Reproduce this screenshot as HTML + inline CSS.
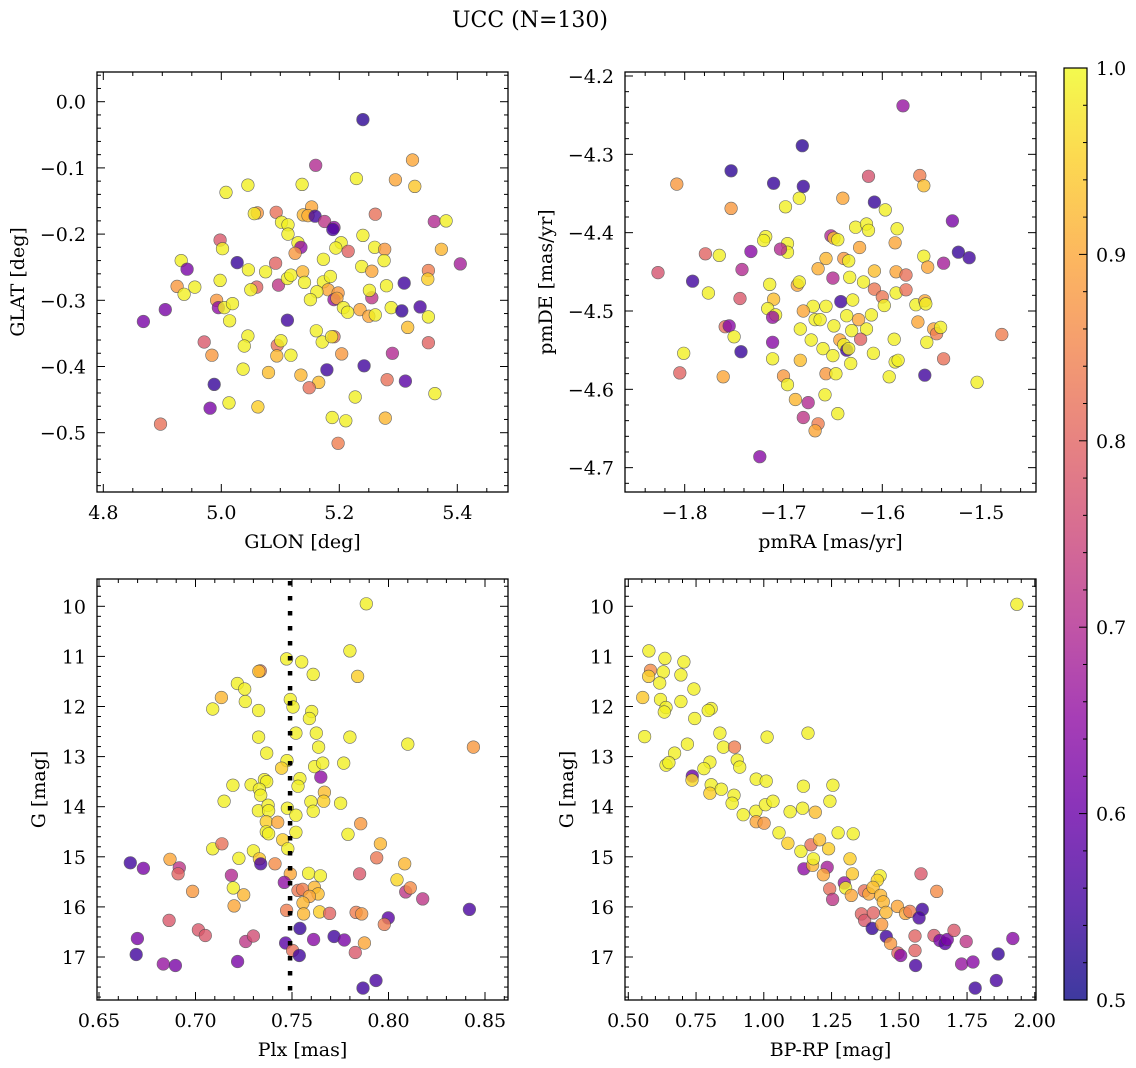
<!DOCTYPE html>
<html><head><meta charset="utf-8">
<style>
html,body{margin:0;padding:0;background:#fff;}
svg{display:block;font-family:"DejaVu Serif","Liberation Serif",serif;}
</style></head>
<body>
<svg id="fig" width="1136" height="1068" viewBox="0 0 1136 1068" xmlns="http://www.w3.org/2000/svg">
<defs>
<linearGradient id="plasmaGrad" x1="0" y1="1" x2="0" y2="0">
<stop offset="0" stop-color="#0d0887"/><stop offset="0.1" stop-color="#41049d"/><stop offset="0.2" stop-color="#6a00a8"/><stop offset="0.3" stop-color="#8f0da4"/><stop offset="0.4" stop-color="#b12a90"/><stop offset="0.5" stop-color="#cc4778"/><stop offset="0.6" stop-color="#e16462"/><stop offset="0.7" stop-color="#f2844b"/><stop offset="0.8" stop-color="#fca636"/><stop offset="0.9" stop-color="#fcce25"/><stop offset="1" stop-color="#f0f921"/>
</linearGradient>
</defs>
<text x="530" y="27" font-size="22" text-anchor="middle">UCC (N=130)</text>
<g>
<rect x="1064" y="68" width="23" height="932" fill="url(#plasmaGrad)" opacity="0.8"/>
<rect x="1064" y="68" width="23" height="932" fill="none" stroke="#000" stroke-width="1.2"/>
<g id="cbticks"></g>
</g>
<g id="panels"></g>
</svg>
<script>
// ---- data: [x, y, colour value] ----
const glonGlat = [
[5.240,-0.027,0.53],[5.160,-0.096,0.70],[5.324,-0.088,0.90],[5.229,-0.116,0.99],[5.295,-0.118,0.90],[5.328,-0.128,0.94],[5.008,-0.137,0.99],[5.045,-0.126,0.99],[5.137,-0.125,0.99],
[5.061,-0.168,0.88],[5.056,-0.169,0.98],[5.093,-0.167,0.82],[5.153,-0.159,0.90],[5.139,-0.171,0.92],[5.147,-0.172,0.91],[5.159,-0.173,0.55],[5.175,-0.181,0.72],[5.191,-0.190,0.65],[5.189,-0.193,0.56],
[5.261,-0.170,0.82],[5.361,-0.181,0.70],[5.381,-0.180,0.99],[5.102,-0.182,0.99],[5.113,-0.186,0.99],[5.113,-0.200,0.99],[5.130,-0.213,0.99],[5.135,-0.220,0.65],[5.125,-0.229,0.88],
[4.998,-0.209,0.78],[5.002,-0.222,0.99],[5.240,-0.202,0.99],[5.203,-0.213,0.99],[5.194,-0.221,0.99],[5.215,-0.226,0.80],[5.260,-0.220,0.99],[5.277,-0.223,0.88],[5.276,-0.240,0.99],
[5.373,-0.223,0.92],[5.405,-0.245,0.68],[4.932,-0.240,0.99],[4.942,-0.253,0.62],[5.027,-0.243,0.54],[5.046,-0.254,0.99],[5.075,-0.257,0.99],[5.092,-0.244,0.80],[5.173,-0.238,0.99],
[5.238,-0.249,0.99],[5.255,-0.256,0.90],[5.351,-0.255,0.84],[5.350,-0.268,0.95],[4.925,-0.279,0.88],[4.937,-0.291,0.99],[4.955,-0.280,0.99],[4.998,-0.270,0.99],[5.060,-0.280,0.80],
[5.050,-0.284,0.99],[5.097,-0.277,0.72],[5.112,-0.267,0.99],[5.118,-0.262,0.99],[5.138,-0.257,0.92],[5.141,-0.273,0.99],[5.173,-0.272,0.99],[5.185,-0.264,0.99],[5.181,-0.284,0.90],
[5.198,-0.289,0.88],[5.162,-0.287,0.99],[5.151,-0.299,0.99],[5.191,-0.299,0.66],[5.196,-0.297,0.90],[5.280,-0.278,0.99],[5.255,-0.296,0.72],[5.251,-0.285,0.99],[5.310,-0.274,0.55],
[4.992,-0.300,0.88],[4.995,-0.311,0.65],[5.005,-0.311,0.99],[5.019,-0.305,0.99],[5.014,-0.331,0.99],[4.905,-0.314,0.62],[4.868,-0.332,0.62],[5.112,-0.330,0.55],[5.207,-0.311,0.99],
[5.214,-0.318,0.99],[5.235,-0.314,0.90],[5.250,-0.324,0.90],[5.261,-0.322,0.99],[5.288,-0.311,0.99],[5.306,-0.316,0.54],[5.337,-0.310,0.56],[5.351,-0.325,0.99],[5.316,-0.341,0.93],
[5.045,-0.354,0.99],[5.039,-0.369,0.99],[4.971,-0.363,0.78],[4.984,-0.383,0.88],[5.095,-0.368,0.82],[5.101,-0.361,0.99],[5.094,-0.384,0.92],[5.118,-0.383,0.99],[5.161,-0.346,0.99],
[5.171,-0.363,0.99],[5.191,-0.355,0.82],[5.187,-0.355,0.98],[5.204,-0.381,0.88],[5.242,-0.399,0.55],[5.290,-0.380,0.70],[5.351,-0.364,0.80],[5.037,-0.404,0.99],[5.080,-0.409,0.93],
[5.135,-0.413,0.92],[5.179,-0.405,0.55],[5.165,-0.424,0.93],[5.149,-0.432,0.82],[5.281,-0.420,0.82],[5.312,-0.422,0.58],[5.362,-0.441,0.99],[4.988,-0.427,0.54],[5.013,-0.455,0.99],
[5.062,-0.461,0.95],[4.981,-0.463,0.62],[5.227,-0.446,0.99],[5.188,-0.477,0.99],[5.211,-0.482,0.99],[5.278,-0.478,0.92],[5.198,-0.516,0.84],[4.897,-0.487,0.82]
];
const pmraPmde = [
[-1.579,-4.238,0.66],[-1.681,-4.289,0.53],[-1.753,-4.321,0.53],[-1.808,-4.338,0.88],[-1.710,-4.337,0.54],[-1.680,-4.341,0.54],[-1.614,-4.328,0.77],[-1.562,-4.327,0.84],[-1.558,-4.340,0.93],
[-1.753,-4.369,0.88],[-1.698,-4.367,0.99],[-1.684,-4.356,0.99],[-1.640,-4.356,0.90],[-1.608,-4.361,0.54],[-1.597,-4.371,0.99],[-1.529,-4.385,0.62],[-1.627,-4.393,0.99],[-1.616,-4.389,0.99],
[-1.614,-4.397,0.99],[-1.585,-4.395,0.99],[-1.718,-4.405,0.99],[-1.720,-4.410,0.99],[-1.696,-4.414,0.99],[-1.696,-4.425,0.99],[-1.703,-4.421,0.70],[-1.733,-4.424,0.64],[-1.779,-4.427,0.80],
[-1.765,-4.429,0.99],[-1.652,-4.404,0.70],[-1.649,-4.407,0.93],[-1.645,-4.409,0.99],[-1.623,-4.419,0.90],[-1.587,-4.413,0.90],[-1.558,-4.430,0.99],[-1.554,-4.444,0.90],[-1.538,-4.439,0.68],
[-1.523,-4.425,0.54],[-1.512,-4.432,0.55],[-1.827,-4.451,0.77],[-1.792,-4.462,0.55],[-1.776,-4.477,0.99],[-1.742,-4.447,0.70],[-1.744,-4.484,0.78],[-1.657,-4.433,0.92],[-1.665,-4.446,0.91],
[-1.639,-4.433,0.88],[-1.634,-4.436,0.99],[-1.650,-4.458,0.70],[-1.633,-4.457,0.99],[-1.608,-4.449,0.93],[-1.586,-4.450,0.90],[-1.576,-4.454,0.82],[-1.714,-4.466,0.99],[-1.686,-4.467,0.90],
[-1.684,-4.463,0.99],[-1.710,-4.485,0.93],[-1.716,-4.497,0.99],[-1.708,-4.505,0.99],[-1.711,-4.508,0.66],[-1.619,-4.463,0.99],[-1.608,-4.472,0.83],[-1.600,-4.482,0.83],[-1.598,-4.493,0.99],
[-1.586,-4.477,0.99],[-1.576,-4.473,0.82],[-1.642,-4.488,0.55],[-1.630,-4.486,0.99],[-1.657,-4.494,0.99],[-1.670,-4.494,0.99],[-1.680,-4.500,0.90],[-1.668,-4.511,0.99],[-1.663,-4.511,0.99],
[-1.636,-4.506,0.99],[-1.624,-4.511,0.90],[-1.611,-4.505,0.99],[-1.566,-4.492,0.99],[-1.557,-4.487,0.90],[-1.556,-4.491,0.99],[-1.564,-4.514,0.90],[-1.548,-4.523,0.90],[-1.545,-4.529,0.84],
[-1.541,-4.521,0.99],[-1.479,-4.530,0.84],[-1.759,-4.520,0.82],[-1.755,-4.519,0.64],[-1.750,-4.533,0.99],[-1.683,-4.523,0.99],[-1.649,-4.519,0.99],[-1.631,-4.525,0.99],[-1.616,-4.523,0.99],
[-1.672,-4.537,0.99],[-1.643,-4.537,0.90],[-1.639,-4.543,0.99],[-1.636,-4.550,0.55],[-1.634,-4.548,0.99],[-1.622,-4.536,0.80],[-1.711,-4.540,0.64],[-1.743,-4.552,0.54],[-1.801,-4.554,0.99],
[-1.660,-4.548,0.99],[-1.650,-4.557,0.99],[-1.711,-4.561,0.99],[-1.683,-4.563,0.93],[-1.632,-4.567,0.99],[-1.609,-4.554,0.99],[-1.588,-4.536,0.99],[-1.555,-4.540,0.99],[-1.587,-4.565,0.99],
[-1.584,-4.563,0.99],[-1.538,-4.561,0.82],[-1.805,-4.579,0.80],[-1.761,-4.584,0.90],[-1.700,-4.583,0.88],[-1.696,-4.594,0.99],[-1.657,-4.580,0.88],[-1.647,-4.580,0.99],[-1.593,-4.584,0.99],
[-1.557,-4.582,0.55],[-1.504,-4.591,0.99],[-1.688,-4.613,0.92],[-1.658,-4.607,0.99],[-1.675,-4.617,0.70],[-1.680,-4.636,0.72],[-1.665,-4.644,0.84],[-1.668,-4.653,0.90],[-1.645,-4.631,0.99],
[-1.724,-4.686,0.64]
];
const plxG = [
[0.7885,9.95,0.99],[0.780,10.89,0.99],[0.7472,11.05,0.99],[0.755,11.11,0.99],[0.761,11.36,0.99],[0.784,11.40,0.95],[0.7336,11.29,0.84],[0.7328,11.30,0.93],[0.7217,11.54,0.99],
[0.7255,11.65,0.99],[0.7134,11.82,0.92],[0.7258,11.90,0.99],[0.7089,12.05,0.99],[0.7327,12.08,0.99],[0.7491,11.86,0.99],[0.7505,12.01,0.99],[0.7602,12.10,0.99],[0.759,12.24,0.99],
[0.7327,12.61,0.99],[0.752,12.53,0.99],[0.7626,12.53,0.99],[0.7638,12.81,0.99],[0.780,12.61,0.99],[0.810,12.75,0.99],[0.844,12.81,0.88],[0.7369,12.93,0.99],[0.7474,13.08,0.99],
[0.7446,13.23,0.95],[0.7617,13.20,0.99],[0.7659,13.13,0.99],[0.7768,13.13,0.99],[0.7649,13.41,0.65],[0.7541,13.44,0.99],[0.7531,13.59,0.99],[0.7194,13.57,0.99],[0.7288,13.56,0.99],
[0.7357,13.46,0.99],[0.7369,13.50,0.99],[0.7331,13.65,0.99],[0.7338,13.77,0.99],[0.7148,13.89,0.99],[0.7668,13.71,0.93],[0.7664,13.89,0.95],[0.7598,13.90,0.99],[0.761,14.09,0.99],
[0.7752,13.93,0.99],[0.7326,14.08,0.99],[0.7376,13.97,0.99],[0.7379,14.08,0.99],[0.7476,14.03,0.99],[0.752,14.17,0.99],[0.7367,14.30,0.95],[0.7426,14.31,0.90],[0.7367,14.50,0.99],
[0.7379,14.54,0.99],[0.752,14.51,0.99],[0.7452,14.66,0.95],[0.7478,14.84,0.99],[0.779,14.55,0.99],[0.7856,14.34,0.88],[0.7958,14.74,0.92],[0.7089,14.84,0.99],[0.7137,14.74,0.82],
[0.730,14.88,0.99],[0.7225,15.03,0.99],[0.7331,15.04,0.94],[0.7338,15.14,0.56],[0.7412,15.14,0.86],[0.7939,15.02,0.83],[0.8084,15.14,0.92],[0.6662,15.12,0.55],[0.673,15.23,0.62],
[0.6868,15.05,0.90],[0.6916,15.22,0.72],[0.691,15.34,0.80],[0.7186,15.37,0.70],[0.7491,15.34,0.90],[0.7586,15.33,0.99],[0.7647,15.38,0.99],[0.785,15.34,0.78],[0.8044,15.46,0.96],
[0.746,15.51,0.65],[0.7531,15.67,0.83],[0.7555,15.65,0.84],[0.7616,15.61,0.92],[0.7635,15.74,0.93],[0.759,15.79,0.90],[0.7196,15.62,0.99],[0.725,15.76,0.92],[0.6985,15.69,0.88],
[0.8089,15.70,0.72],[0.8113,15.62,0.86],[0.8177,15.84,0.72],[0.720,15.98,0.90],[0.7472,16.07,0.84],[0.7557,15.92,0.92],[0.756,16.14,0.92],[0.7643,16.10,0.95],[0.7695,16.13,0.80],
[0.7832,16.11,0.84],[0.7861,16.14,0.88],[0.7999,16.22,0.58],[0.7978,16.35,0.84],[0.8419,16.05,0.56],[0.6863,16.27,0.78],[0.7015,16.46,0.78],[0.7051,16.57,0.78],[0.726,16.69,0.72],
[0.730,16.58,0.76],[0.7541,16.43,0.54],[0.7467,16.72,0.58],[0.7503,16.87,0.82],[0.7538,16.97,0.55],[0.7612,16.65,0.64],[0.7718,16.59,0.55],[0.7771,16.66,0.62],[0.7875,16.72,0.90],
[0.7828,16.91,0.78],[0.6699,16.63,0.62],[0.6693,16.95,0.55],[0.6833,17.14,0.66],[0.6896,17.17,0.62],[0.7218,17.09,0.62],[0.7935,17.47,0.56],[0.7868,17.62,0.55]
];
const bprpG = [
[1.934,9.96,0.99],[0.576,10.89,0.99],[0.635,11.04,0.99],[0.705,11.11,0.99],[0.629,11.31,0.99],[0.582,11.28,0.86],[0.575,11.40,0.95],[0.694,11.37,0.99],[0.616,11.53,0.99],
[0.742,11.65,0.99],[0.553,11.82,0.94],[0.619,11.86,0.99],[0.639,12.02,0.99],[0.633,12.11,0.99],[0.694,11.90,0.99],[0.806,12.04,0.99],[0.795,12.08,0.99],[0.745,12.24,0.99],
[0.560,12.60,0.99],[0.838,12.53,0.99],[1.012,12.61,0.99],[1.163,12.53,0.99],[0.718,12.75,0.99],[0.851,12.81,0.99],[0.892,12.81,0.84],[0.671,12.93,0.99],[0.639,13.17,0.99],
[0.650,13.12,0.99],[0.801,13.11,0.99],[0.779,13.24,0.99],[0.902,13.07,0.99],[0.911,13.21,0.99],[0.736,13.39,0.60],[0.735,13.47,0.96],[0.806,13.56,0.99],[0.801,13.73,0.95],
[0.843,13.65,0.99],[0.890,13.77,0.99],[0.883,13.93,0.99],[0.972,13.45,0.99],[1.009,13.49,0.99],[1.146,13.59,0.99],[1.255,13.57,0.99],[1.244,13.89,0.99],[0.924,14.16,0.99],
[0.971,14.09,0.99],[0.972,14.30,0.90],[1.001,14.33,0.88],[1.006,13.96,0.99],[1.034,13.89,0.99],[1.097,14.10,0.99],[1.143,14.03,0.99],[1.190,14.11,0.93],[1.056,14.52,0.99],
[1.089,14.73,0.95],[1.137,14.89,0.99],[1.174,14.76,0.82],[1.206,14.66,0.93],[1.239,14.84,0.95],[1.274,14.52,0.99],[1.330,14.54,0.99],[1.318,15.04,0.95],[1.148,15.24,0.65],
[1.180,15.17,0.92],[1.183,15.04,0.99],[1.234,15.21,0.68],[1.220,15.36,0.90],[1.327,15.34,0.94],[1.429,15.38,0.99],[1.419,15.47,0.96],[1.580,15.34,0.78],[1.297,15.52,0.66],
[1.302,15.62,0.99],[1.243,15.64,0.82],[1.254,15.85,0.72],[1.323,15.77,0.90],[1.371,15.68,0.82],[1.388,15.74,0.90],[1.403,15.61,0.93],[1.431,15.77,0.92],[1.441,15.90,0.92],
[1.451,16.11,0.92],[1.493,15.99,0.90],[1.523,16.13,0.90],[1.539,16.09,0.84],[1.638,15.69,0.86],[1.585,16.05,0.55],[1.573,16.22,0.56],[1.360,16.14,0.80],[1.372,16.27,0.78],
[1.404,16.12,0.80],[1.400,16.43,0.54],[1.435,16.35,0.88],[1.452,16.59,0.55],[1.468,16.73,0.88],[1.495,16.92,0.80],[1.505,16.97,0.64],[1.558,16.58,0.80],[1.558,16.87,0.80],
[1.560,17.17,0.56],[1.628,16.57,0.78],[1.650,16.67,0.62],[1.669,16.73,0.58],[1.677,16.65,0.62],[1.702,16.47,0.78],[1.747,16.69,0.72],[1.730,17.14,0.66],[1.772,17.10,0.64],
[1.865,16.94,0.54],[1.919,16.63,0.64],[1.858,17.47,0.56],[1.780,17.62,0.55]
];
// tick values
const p1XTicks = [4.8,5.0,5.2,5.4];
const p1YTicks = [0.0,-0.1,-0.2,-0.3,-0.4,-0.5];
const p2XTicks = [-1.8,-1.7,-1.6,-1.5];
const p2YTicks = [-4.2,-4.3,-4.4,-4.5,-4.6,-4.7];
const p3XTicks = [0.65,0.70,0.75,0.80,0.85];
const gTicks = [10,11,12,13,14,15,16,17];
const p4XTicks = [0.50,0.75,1.00,1.25,1.50,1.75,2.00];
const cbTicks = [0.5,0.6,0.7,0.8,0.9,1.0];
const plxCut = 0.749;

const NS = 'http://www.w3.org/2000/svg';
const FS = 19;
function mk(tag, attrs, parent){const e=document.createElementNS(NS,tag);for(const k in attrs)e.setAttribute(k,attrs[k]);if(parent)parent.appendChild(e);return e;}
const stops=[[13,8,135],[65,4,157],[106,0,168],[143,13,164],[177,42,144],[204,71,120],[225,100,98],[242,132,75],[252,166,54],[252,206,37],[240,249,33]];
function plasma(v){let t=(v-0.5)/0.5;t=Math.max(0,Math.min(1,t))*10;const i=Math.min(9,Math.floor(t)),f=t-i;const a=stops[i],b=stops[i+1];return 'rgb('+a.map((c,k)=>Math.round(c+(b[k]-c)*f)).join(',')+')';}
function fmt(v,d){const s=Math.abs(v).toFixed(d);return (v<0?'\u2212':'')+s;}

const root=document.getElementById('panels');
function panel(cfg){
  const g=mk('g',{},root);
  
  
  const [L,R,T,B]=cfg.box;
  const ax=cfg.ax, ay=cfg.ay;
  const sx=v=>ax[0]+(v-ax[1])*ax[2];
  const sy=v=>ay[0]-(v-ay[1])*ay[2];
  const clip='clip-'+cfg.name;
  const cp=mk('clipPath',{id:clip},g);mk('rect',{x:L,y:T,width:R-L,height:B-T},cp);
  const pts=mk('g',{'clip-path':'url(#'+clip+')'},g);
  
  
  cfg.data.forEach((d,i)=>{
    const c=mk('circle',{cx:sx(d[0]).toFixed(1),cy:sy(d[1]).toFixed(1),r:6.3,fill:plasma(d[2]),stroke:'#444','stroke-width':0.6,opacity:0.8},pts);
    
    
  });
  if(cfg.vline!==undefined){
    const l=mk('line',{x1:sx(cfg.vline),x2:sx(cfg.vline),y1:T+2,y2:B,stroke:'#000','stroke-width':4.5,'stroke-dasharray':'4.5,10.5'},g);
    
    
  }
  const frame=mk('rect',{x:L,y:T,width:R-L,height:B-T,fill:'none',stroke:'#000','stroke-width':1.3},g);
  
  
  const tk=mk('g',{stroke:'#000','stroke-width':1},g);
  const xstep=cfg.xt[1]-cfg.xt[0], xminor=xstep/cfg.xdiv;
  const xs0=cfg.xt[0]-xstep*5;
  for(let k=0;k<(cfg.xt.length+10)*cfg.xdiv;k++){
    const v=xs0+k*xminor;const p=sx(v);if(p<L+0.5||p>R-0.5)continue;
    const major=(k%cfg.xdiv)===0;const len=major?8:4;
    mk('line',{x1:p,x2:p,y1:B,y2:B-len},tk);mk('line',{x1:p,x2:p,y1:T,y2:T+len},tk);
  }
  const ystep=cfg.yt[1]-cfg.yt[0], yminor=ystep/cfg.ydiv;
  const ys0=cfg.yt[0]-ystep*5;
  for(let k=0;k<(cfg.yt.length+10)*cfg.ydiv;k++){
    const v=ys0+k*yminor;const p=sy(v);if(p<T+0.5||p>B-0.5)continue;
    const major=(k%cfg.ydiv)===0;const len=major?8:4;
    mk('line',{x1:L,x2:L+len,y1:p,y2:p},tk);mk('line',{x1:R,x2:R-len,y1:p,y2:p},tk);
  }
  cfg.xt.forEach(v=>{const t=mk('text',{x:sx(v),y:B+27,'font-size':FS,'text-anchor':'middle'},g);t.textContent=fmt(v,cfg.xd);
    
    });
  cfg.yt.forEach(v=>{const t=mk('text',{x:L-11,y:sy(v)+7,'font-size':FS,'text-anchor':'end'},g);t.textContent=fmt(v,cfg.yd);
    
    });
  const xl=mk('text',{x:(L+R)/2,y:B+56,'font-size':FS,'text-anchor':'middle'},g);xl.textContent=cfg.xlabel;
  
  
  const yl=mk('text',{x:0,y:0,'font-size':FS,'text-anchor':'middle',transform:'translate('+cfg.ylx+','+((T+B)/2)+') rotate(-90)'},g);yl.textContent=cfg.ylabel;
  
  
}
panel({name:'glon-glat-panel',box:[97,508,72,492],ax:[103.3,4.8,590],ay:[101.7,0,662],data:glonGlat,xt:p1XTicks,yt:p1YTicks,xdiv:4,ydiv:5,xd:1,yd:1,xlabel:'GLON [deg]',ylabel:'GLAT [deg]',ylx:24});
panel({name:'pm-panel',box:[625,1036,72,492],ax:[684.7,-1.8,988],ay:[76,-4.2,783.3],data:pmraPmde,xt:p2XTicks,yt:p2YTicks,xdiv:5,ydiv:5,xd:1,yd:1,xlabel:'pmRA [mas/yr]',ylabel:'pmDE [mas/yr]',ylx:552});
panel({name:'plx-g-panel',box:[97,508,579,1000],ax:[292,0.75,1930],ay:[606.3,10,-50.1],data:plxG,xt:p3XTicks,yt:gTicks,xdiv:5,ydiv:5,xd:2,yd:0,xlabel:'Plx [mas]',ylabel:'G [mag]',ylx:45,vline:plxCut});
panel({name:'cmd-panel',box:[625,1036,579,1000],ax:[628.3,0.5,271],ay:[606.3,10,-50.1],data:bprpG,xt:p4XTicks,yt:gTicks,xdiv:5,ydiv:5,xd:2,yd:0,xlabel:'BP-RP [mag]',ylabel:'G [mag]',ylx:573});

const cb=document.getElementById('cbticks');
const cy=v=>1000-(v-0.5)/0.5*932;
for(let k=0;k<=25;k++){const v=0.5+k*0.02;const p=cy(v);const major=k%5===0;
  if(p>68.5&&p<999.5) mk('line',{x1:1087,x2:1087-(major?8:4),y1:p,y2:p,stroke:'#000','stroke-width':1},cb);}
cbTicks.forEach(v=>{const t=mk('text',{x:1096,y:cy(v)+7,'font-size':FS},cb);t.textContent=v.toFixed(1);
  
  });
</script>
</body></html>
